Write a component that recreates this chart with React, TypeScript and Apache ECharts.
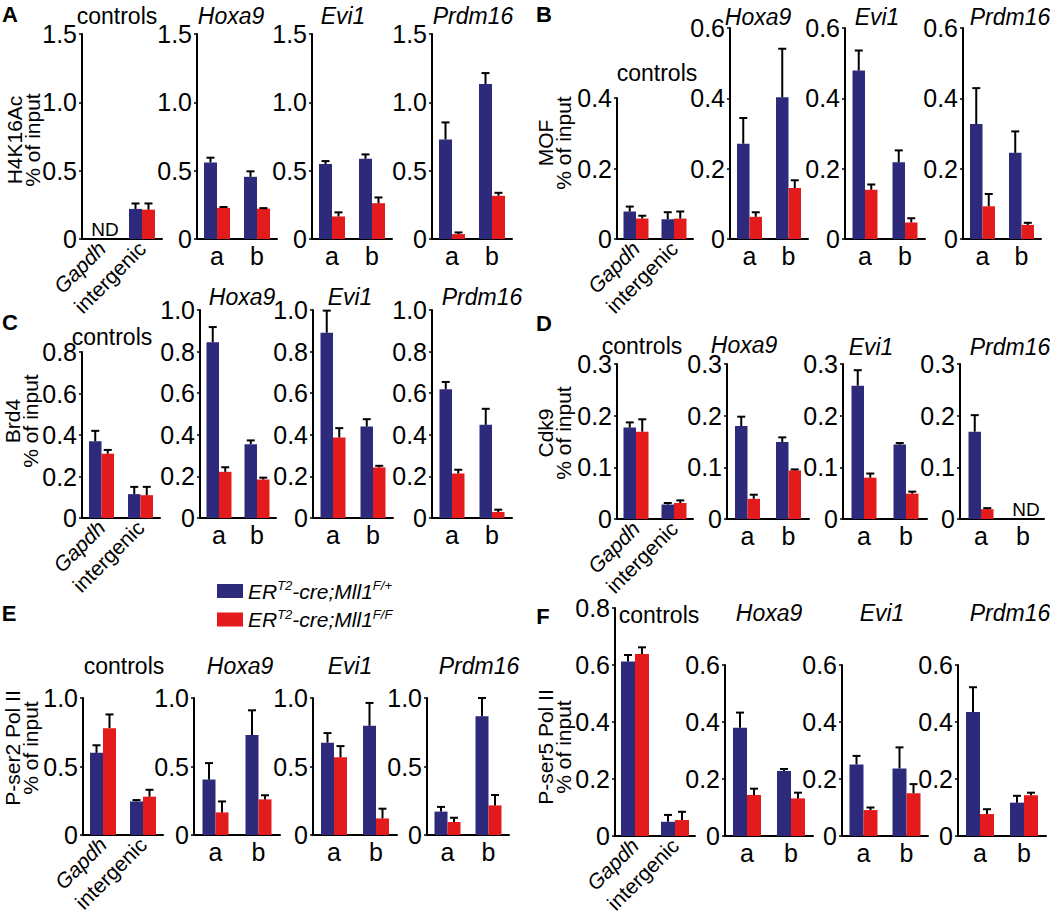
import React, { useEffect, useRef } from 'react';
import * as echarts from 'echarts';

const BLUE = '#2d2a7c';
const RED = '#e41b1c';
const FONT = '"Liberation Sans", Arial, Helvetica, sans-serif';

const ctrlCats = ['Gapdh', 'intergenic'];
const abCats = ['a', 'b'];
const subTitles = ['controls', 'Hoxa9', 'Evi1', 'Prdm16'];
const blueName = 'ERT2-cre;Mll1 F/+';
const redName = 'ERT2-cre;Mll1 F/F';

// Each array: [controls, Hoxa9, Evi1, Prdm16], each entry = [first category, second category]
// A: H4K16Ac
const h4k16acBlue = [[null, 0.22], [0.56, 0.455], [0.548, 0.587], [0.728, 1.134]];
const h4k16acBlueErr = [[null, 0.04], [0.035, 0.04], [0.022, 0.032], [0.125, 0.08]];
const h4k16acRed = [[null, 0.215], [0.228, 0.222], [0.165, 0.262], [0.036, 0.316]];
const h4k16acRedErr = [[null, 0.045], [0.006, 0.004], [0.03, 0.042], [0.012, 0.022]];
const h4k16acMax = [1.5, 1.5, 1.5, 1.5];
const h4k16acStep = [0.5, 0.5, 0.5, 0.5];

// B: MOF
const mofBlue = [[0.078, 0.056], [0.271, 0.403], [0.479, 0.218], [0.327, 0.245]];
const mofBlueErr = [[0.014, 0.02], [0.073, 0.138], [0.057, 0.034], [0.102, 0.061]];
const mofRed = [[0.058, 0.058], [0.063, 0.145], [0.14, 0.047], [0.093, 0.04]];
const mofRedErr = [[0.008, 0.02], [0.013, 0.022], [0.015, 0.012], [0.035, 0.006]];
const mofMax = [0.4, 0.6, 0.6, 0.6];
const mofStep = [0.2, 0.2, 0.2, 0.2];

// C: Brd4
const brd4Blue = [[0.37, 0.115], [0.845, 0.355], [0.891, 0.44], [0.619, 0.448]];
const brd4BlueErr = [[0.05, 0.035], [0.073, 0.018], [0.106, 0.035], [0.035, 0.077]];
const brd4Red = [[0.31, 0.11], [0.222, 0.185], [0.387, 0.243], [0.214, 0.029]];
const brd4RedErr = [[0.018, 0.04], [0.022, 0.009], [0.045, 0.008], [0.018, 0.011]];
const brd4Max = [0.8, 1.0, 1.0, 1.0];
const brd4Step = [0.2, 0.2, 0.2, 0.2];

// D: Cdk9
const cdk9Blue = [[0.177, 0.028], [0.18, 0.149], [0.258, 0.144], [0.169, null]];
const cdk9BlueErr = [[0.01, 0.003], [0.018, 0.009], [0.03, 0.003], [0.032, null]];
const cdk9Red = [[0.169, 0.031], [0.039, 0.094], [0.08, 0.049], [0.019, null]];
const cdk9RedErr = [[0.024, 0.005], [0.008, 0.002], [0.008, 0.004], [0.002, null]];
const cdk9Max = [0.3, 0.3, 0.3, 0.3];
const cdk9Step = [0.1, 0.1, 0.1, 0.1];

// E: P-ser2 Pol II
const pser2Blue = [[0.6, 0.245], [0.405, 0.73], [0.674, 0.797], [0.171, 0.867]];
const pser2BlueErr = [[0.055, 0.01], [0.12, 0.18], [0.07, 0.167], [0.034, 0.133]];
const pser2Red = [[0.78, 0.28], [0.165, 0.26], [0.567, 0.121], [0.095, 0.216]];
const pser2RedErr = [[0.1, 0.05], [0.08, 0.03], [0.082, 0.071], [0.031, 0.076]];
const pser2Max = [1.0, 1.0, 1.0, 1.0];
const pser2Step = [0.5, 0.5, 0.5, 0.5];

// F: P-ser5 Pol II
const pser5Blue = [[0.612, 0.05], [0.38, 0.228], [0.251, 0.237], [0.435, 0.117]];
const pser5BlueErr = [[0.023, 0.024], [0.053, 0.007], [0.03, 0.074], [0.087, 0.024]];
const pser5Red = [[0.639, 0.056], [0.144, 0.132], [0.091, 0.15], [0.077, 0.143]];
const pser5RedErr = [[0.023, 0.029], [0.022, 0.02], [0.009, 0.032], [0.017, 0.009]];
const pser5Max = [0.8, 0.6, 0.6, 0.6];
const pser5Step = [0.2, 0.2, 0.2, 0.2];

const panels = [
  { letter: 'A', yName: 'H4K16Ac\n% of input', blue: h4k16acBlue, blueErr: h4k16acBlueErr, red: h4k16acRed, redErr: h4k16acRedErr, max: h4k16acMax, step: h4k16acStep },
  { letter: 'B', yName: 'MOF\n% of input', blue: mofBlue, blueErr: mofBlueErr, red: mofRed, redErr: mofRedErr, max: mofMax, step: mofStep },
  { letter: 'C', yName: 'Brd4\n% of input', blue: brd4Blue, blueErr: brd4BlueErr, red: brd4Red, redErr: brd4RedErr, max: brd4Max, step: brd4Step },
  { letter: 'D', yName: 'Cdk9\n% of input', blue: cdk9Blue, blueErr: cdk9BlueErr, red: cdk9Red, redErr: cdk9RedErr, max: cdk9Max, step: cdk9Step },
  { letter: 'E', yName: 'P-ser2 Pol II\n% of input', blue: pser2Blue, blueErr: pser2BlueErr, red: pser2Red, redErr: pser2RedErr, max: pser2Max, step: pser2Step },
  { letter: 'F', yName: 'P-ser5 Pol II\n% of input', blue: pser5Blue, blueErr: pser5BlueErr, red: pser5Red, redErr: pser5RedErr, max: pser5Max, step: pser5Step },
];

// layout (pixels)
const layouts = [
  { letter: [10, 14], yName: [23, 140], zero: 239, tops: [34, 34, 34, 34], lefts: [82, 197, 312, 432], widths: [80, 80, 80, 80], titles: [[117, 16], [231, 16], [343, 16], [473, 16]], barW: 13 },
  { letter: [544, 14], yName: [554, 143], zero: 239, tops: [98, 28, 28, 28], lefts: [617, 730, 845, 963], widths: [76, 78, 80, 78], titles: [[657, 73], [758, 17], [877, 17], [1010, 17]], barW: 12.5 },
  { letter: [10, 322], yName: [21, 421], zero: 518, tops: [352, 310, 310, 310], lefts: [82, 200, 313, 432], widths: [78, 76, 80, 80], titles: [[112, 337], [242, 297], [350, 297], [482, 297]], barW: 12.5 },
  { letter: [544, 323], yName: [554, 433], zero: 519, tops: [364, 364, 364, 364], lefts: [617, 727, 843, 960], widths: [76, 82, 84, 84], titles: [[642, 346], [744, 345], [871, 347], [1010, 347]], barW: 12.5 },
  { letter: [9, 613], yName: [21, 748], zero: 835, tops: [698, 698, 698, 698], lefts: [83, 194, 313, 427], widths: [80, 86, 84, 82], titles: [[124, 666], [240, 666], [350, 666], [479, 666]], barW: 13 },
  { letter: [543, 616], yName: [554, 747], zero: 836, tops: [608, 665, 665, 665], lefts: [615, 725, 842, 958], widths: [80, 88, 86, 88], titles: [[659, 615], [769, 613], [882, 613], [1010, 613]], barW: 14 },
];

function buildOption() {
  const grid: any[] = [];
  const xAxis: any[] = [];
  const yAxis: any[] = [];
  const series: any[] = [];
  const graphic: any[] = [];

  panels.forEach((p, pi) => {
    const L = layouts[pi];
    graphic.push({
      type: 'text', x: L.letter[0], y: L.letter[1],
      style: { text: p.letter, font: `bold 22px ${FONT}`, fill: '#000', textAlign: 'center', textVerticalAlign: 'middle' },
    });
    graphic.push({
      type: 'text', x: L.yName[0], y: L.yName[1], rotation: Math.PI / 2,
      style: { text: p.yName, font: `21px ${FONT}`, lineHeight: 18, fill: '#000', textAlign: 'center', textVerticalAlign: 'middle' },
    });
    for (let s = 0; s < 4; s++) {
      const gi = grid.length;
      const top = L.tops[s];
      grid.push({ left: L.lefts[s], width: L.widths[s], top, height: L.zero - top, containLabel: false, outerBoundsMode: 'none' });
      const isCtrl = s === 0;
      xAxis.push({
        type: 'category', gridIndex: gi, data: isCtrl ? ctrlCats : abCats,
        axisLine: { show: true, lineStyle: { color: '#000', width: 2 } },
        axisTick: { show: false },
        axisLabel: isCtrl
          ? {
              interval: 0, rotate: 45, margin: 6, fontSize: 21, color: '#000', fontFamily: FONT,
              formatter: (v: string) => (v === 'Gapdh' ? '{i|Gapdh}' : v),
              rich: { i: { fontStyle: 'italic', fontSize: 21, fontFamily: FONT, color: '#000' } },
            }
          : { interval: 0, margin: 4, fontSize: 25, color: '#000', fontFamily: FONT },
      });
      yAxis.push({
        type: 'value', gridIndex: gi, min: 0, max: p.max[s], interval: p.step[s],
        splitLine: { show: false },
        axisLine: { show: true, lineStyle: { color: '#000', width: 2 } },
        axisTick: { show: true, length: 3, lineStyle: { color: '#000', width: 1.5 } },
        axisLabel: {
          showMaxLabel: true, showMinLabel: true, margin: 5, fontSize: 25, color: '#000', fontFamily: FONT,
          formatter: (v: number) => (v === 0 ? '0' : v.toFixed(1)),
        },
      });
      const bw = L.barW;
      series.push({
        type: 'bar', name: blueName, xAxisIndex: gi, yAxisIndex: gi, data: p.blue[s], barWidth: bw, barGap: '0%',
        itemStyle: { color: BLUE }, silent: true,
      });
      series.push({
        type: 'bar', name: redName, xAxisIndex: gi, yAxisIndex: gi, data: p.red[s], barWidth: bw, barGap: '0%',
        itemStyle: { color: RED }, silent: true,
      });
      const errData: any[] = [];
      [0, 1].forEach((c) => {
        if (p.blue[s][c] != null) errData.push([c, p.blue[s][c], p.blueErr[s][c], -1]);
        if (p.red[s][c] != null) errData.push([c, p.red[s][c], p.redErr[s][c], 1]);
      });
      series.push({
        type: 'custom', xAxisIndex: gi, yAxisIndex: gi, silent: true, z: 5,
        encode: { x: 0, y: 1 },
        data: errData,
        renderItem: (params: any, api: any) => {
          const c = api.value(0), m = api.value(1), e = api.value(2), side = api.value(3);
          const p0 = api.coord([c, m]);
          const p1 = api.coord([c, m + e]);
          const x = p0[0] + (side * bw) / 2;
          return {
            type: 'group',
            children: [
              { type: 'line', shape: { x1: x, y1: p0[1], x2: x, y2: p1[1] }, style: { stroke: '#000', lineWidth: 2 } },
              { type: 'line', shape: { x1: x - 4, y1: p1[1], x2: x + 4, y2: p1[1] }, style: { stroke: '#000', lineWidth: 2 } },
            ],
          };
        },
      });
      // missing (not detected) categories
      [0, 1].forEach((c) => {
        if (p.blue[s][c] == null && p.red[s][c] == null) {
          const w = L.widths[s];
          graphic.push({
            type: 'text', x: L.lefts[s] + (c === 0 ? w / 4 : (3 * w) / 4) + 3, y: L.zero - 10,
            style: { text: 'ND', font: `19px ${FONT}`, fill: '#000', textAlign: 'center', textVerticalAlign: 'middle' },
          });
        }
      });
      const t = L.titles[s];
      graphic.push({
        type: 'text', x: t[0], y: t[1],
        style: { text: subTitles[s], font: `${s === 0 ? '' : 'italic '}23px ${FONT}`, fill: '#000', textAlign: 'center', textVerticalAlign: 'middle' },
      });
    }
  });

  return {
    animation: false,
    textStyle: { fontFamily: FONT },
    legend: {
      data: [blueName, redName], orient: 'vertical', left: 212, top: 574, itemWidth: 26, itemHeight: 14, itemGap: 6,
      icon: 'rect', selectedMode: false,
      formatter: (name: string) => (name === blueName ? '{i|ER}{s|T2}{i|-cre;Mll1}{s|F/+}' : '{i|ER}{s|T2}{i|-cre;Mll1}{s|F/F}'),
      textStyle: {
        color: '#000', fontSize: 21, fontFamily: FONT,
        rich: {
          i: { fontStyle: 'italic', fontSize: 21, fontFamily: FONT, color: '#000', lineHeight: 24 },
          s: { fontStyle: 'italic', fontSize: 13, fontFamily: FONT, color: '#000', lineHeight: 12, verticalAlign: 'top' },
        },
      },
    },
    grid, xAxis, yAxis, series, graphic,
  };
}

export default function App() {
  const ref = useRef<HTMLDivElement>(null);
  useEffect(() => {
    if (!ref.current) return;
    const chart = echarts.init(ref.current, null, { renderer: 'svg' });
    chart.setOption(buildOption() as any);
    return () => chart.dispose();
  }, []);
  return <div ref={ref} style={{ position: 'absolute', left: 0, top: 0, width: 1050, height: 916, background: '#fff' }} />;
}
